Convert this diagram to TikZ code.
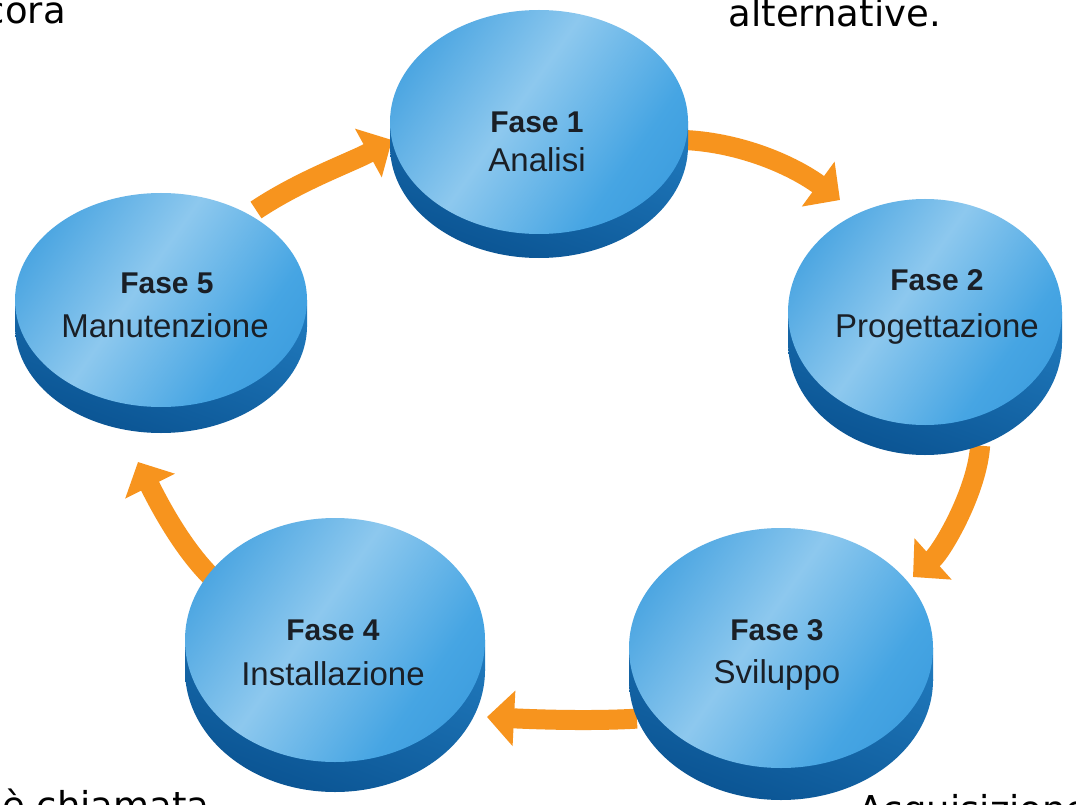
\documentclass[tikz,border=0pt]{standalone}
\usepackage{fontspec}
\setmainfont{Liberation Sans}
\newfontfamily\slidefont{DejaVu Sans}
\usetikzlibrary{arrows.meta,shapes.geometric,backgrounds}
\definecolor{arrorange}{HTML}{F7941E}
\definecolor{facebase}{HTML}{45A2E0}
\definecolor{facelight}{HTML}{8DC8EE}
\definecolor{facemid}{HTML}{46A5E3}
\definecolor{faceedge}{HTML}{2A8DD5}
\definecolor{sideA}{HTML}{2A8ACF}
\definecolor{sideB}{HTML}{0B5594}
\definecolor{txt}{HTML}{1A1F26}
\pgfdeclarehorizontalshading{facesh}{100bp}{color(0bp)=(facebase); color(22bp)=(facebase); color(45bp)=(facelight); color(68bp)=(facemid); color(100bp)=(faceedge)}
\tikzset{
  arr/.style={draw=arrorange, line width=20pt, -{Triangle[width=54pt,length=27pt]}},
  title/.style={font=\fontsize{30}{30}\selectfont\bfseries, text=txt, anchor=base, inner sep=0pt},
  sub/.style={font=\fontsize{33}{33}\selectfont, text=txt, anchor=base, inner sep=0pt},
  slide/.style={font=\slidefont\fontsize{37}{37}\selectfont, text=black, inner sep=0pt},
  faceshade/.style={shading=facesh, shading angle=-35},
  sideshade/.style={left color=sideA, right color=sideB, shading angle=-20},
}
% #1 name, #2 cx, #3 cy, #4 rx, #5 ry, #6 thickness
\newcommand\mydisc[6]{%
  \node[ellipse, inner sep=0pt, minimum width={2*#4pt}, minimum height={2*#5pt}] (#1s) at (#2,#3+#6) {};
  \begin{scope}
    \clip (#2-#4,#3) rectangle (#2+#4,#3+#6);
    \shade[sideshade] (#2-#4,#3-#5) rectangle (#2+#4,#3+#5+#6);
  \end{scope}
  \begin{scope}
    \clip (#1s.center) ellipse[x radius=#4pt, y radius=#5pt];
    \shade[sideshade] (#2-#4,#3-#5) rectangle (#2+#4,#3+#5+#6);
  \end{scope}
  \node[ellipse, inner sep=0pt, minimum width={2*#4pt}, minimum height={2*#5pt}, faceshade] (#1) at (#2,#3) {};
}
\begin{document}
\begin{tikzpicture}[x=1pt,y=-1pt]
\useasboundingbox (0,0) rectangle (1076,805);
\clip (0,0) rectangle (1076,805);

% corner fragments of slide text
\node[slide, anchor=base east] (tl) at (66,24) {cora};
\node[slide, anchor=base east] (tr) at (941,27) {alternative.};
\node[slide, anchor=base west] (bl) at (2,818) {è chiamata};
\node[slide, anchor=base west] (br) at (858,822) {Acquisizione};

% discs
\mydisc{d1}{539}{122}{149}{112}{24}
\mydisc{d2}{925}{312}{137}{113}{30}
\mydisc{d3}{781}{648}{152}{120}{32}
\mydisc{d4}{335}{640}{150}{122}{30}
\mydisc{d5}{161}{300}{146}{107}{26}

% labels
\node[title] (t1) at (537,133) {Fase 1};
\node[sub]   (s1) at (537,172) {Analisi};
\node[title] (t2) at (937,290) {Fase 2};
\node[sub]   (s2) at (937,337) {Progettazione};
\node[title] (t3) at (777,640) {Fase 3};
\node[sub]   (s3) at (777,683) {Sviluppo};
\node[title] (t4) at (333,640) {Fase 4};
\node[sub]   (s4) at (333,685) {Installazione};
\node[title] (t5) at (167,293) {Fase 5};
\node[sub]   (s5) at (165,337) {Manutenzione};

% arrows
\begin{pgfonlayer}{background}
\fill[white] (0,0) rectangle (1076,805);
\draw[arr] (d1.-7) .. controls +(55,3) and +(-48,-35) .. ([shift={(-85,-112)}]d2.center);
\draw[arr] (d2s.-62) .. controls +(-3,45) and +(30,-27) .. ([shift={(132,-71)}]d3.center);
\draw[arr] (d3s.195) .. controls +(-50,3) and +(40,2) .. ([shift={(152,77)}]d4.center);
\draw[arr] ([shift={(-115,-55)}]d4.center) .. controls +(-35,-30) and +(20,40) .. ([shift={(-23,162)}]d5.center);
\draw[arr] ([shift={(95,-90)}]d5.center) .. controls +(45,-30) and +(-40,22) .. ([shift={(-147,18)}]d1.center);
\end{pgfonlayer}
\end{tikzpicture}
\end{document}
